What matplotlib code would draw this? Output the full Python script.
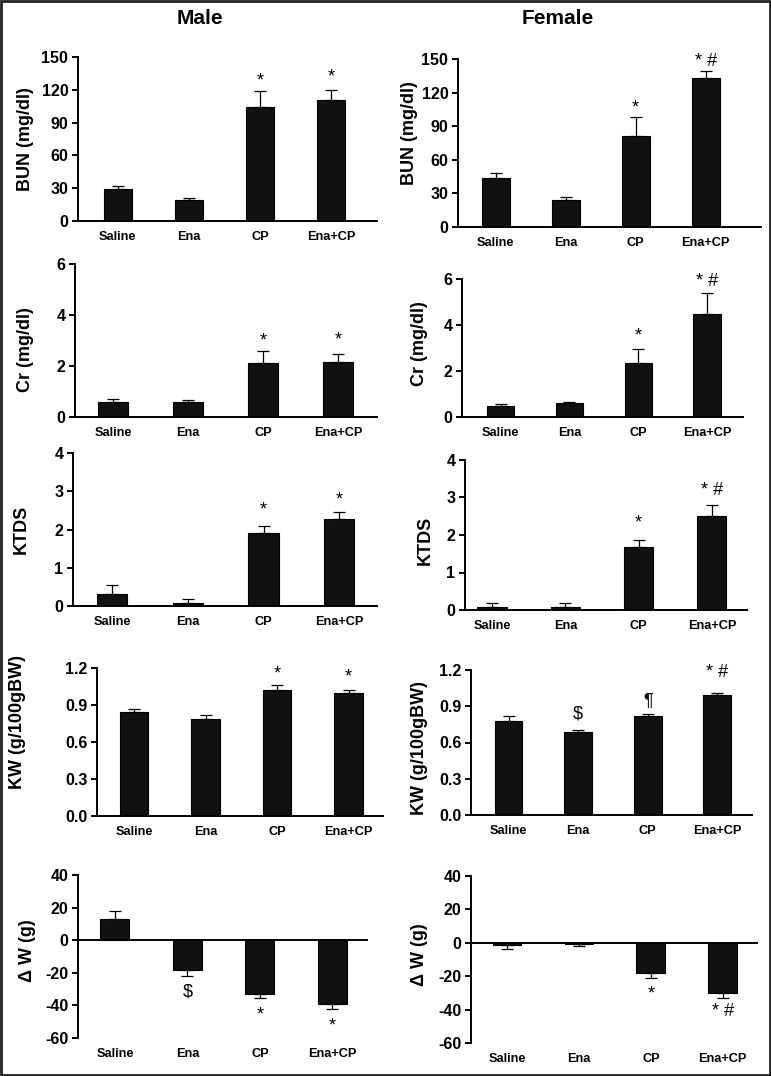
import matplotlib
matplotlib.use("Agg")
import matplotlib.pyplot as plt
from matplotlib.patches import Rectangle

plt.rcParams['font.family'] = ['Liberation Sans', 'DejaVu Sans']

# ------------------------------------------------------------------
# data
# ------------------------------------------------------------------
groups = ["Saline", "Ena", "CP", "Ena+CP"]

male_bun = [29, 19, 104, 111]
male_bun_err = [3, 2, 15, 9]
female_bun = [43.5, 24, 81, 133]
female_bun_err = [5, 2.5, 17, 6.5]

male_cr = [0.60, 0.60, 2.11, 2.17]
male_cr_err = [0.11, 0.07, 0.48, 0.32]
female_cr = [0.48, 0.62, 2.36, 4.49]
female_cr_err = [0.10, 0.05, 0.60, 0.89]

male_ktds = [0.31, 0.09, 1.90, 2.28]
male_ktds_err = [0.23, 0.10, 0.19, 0.18]
female_ktds = [0.09, 0.09, 1.67, 2.50]
female_ktds_err = [0.10, 0.10, 0.21, 0.30]

male_kw = [0.84, 0.79, 1.02, 0.995]
male_kw_err = [0.025, 0.03, 0.04, 0.025]
female_kw = [0.78, 0.686, 0.82, 0.99]
female_kw_err = [0.04, 0.02, 0.02, 0.02]

male_dw = [12.9, -18.4, -32.7, -39.0]
male_dw_err = [5.0, 3.4, 3.0, 3.2]
female_dw = [-1.4, -1.0, -18.0, -30.2]
female_dw_err = [2.4, 0.8, 3.0, 3.0]

# significance marks: (bar index, text, y value)
male_bun_sig = [(2, "*", 133), (3, "*", 137)]
female_bun_sig = [(2, "*", 111), (3, "* #", 148)]
male_cr_sig = [(2, "*", 3.18), (3, "*", 3.25)]
female_cr_sig = [(2, "*", 3.78), (3, "* #", 5.88)]
male_ktds_sig = [(2, "*", 2.66), (3, "*", 2.91)]
female_ktds_sig = [(2, "*", 2.48), (3, "* #", 3.18)]
male_kw_sig = [(2, "*", 1.20), (3, "*", 1.17)]
female_kw_sig = [(1, "$", 0.835), (2, "\u00b6", 0.94), (3, "* #", 1.18)]
male_dw_sig = [(1, "$", -31.6), (2, "*", -42.4), (3, "*", -49)]
female_dw_sig = [(2, "*", -27.2), (3, "* #", -41)]

# ------------------------------------------------------------------
# panel setup
# ------------------------------------------------------------------
W, H = 771, 1076
fig = plt.figure(figsize=(W / 100, H / 100), dpi=100)

# (values, errors, marks, ylabel, ylim, yticks, fmt,
#  box in px [left, top, right, bottom], xlim, label pos px)
panels = [
    (male_bun, male_bun_err, male_bun_sig, "BUN (mg/dl)", (0, 150), range(0, 151, 30), "%d",
     (78, 57, 377, 221), (-0.56, 3.65), (25, 139)),
    (female_bun, female_bun_err, female_bun_sig, "BUN (mg/dl)", (0, 150), range(0, 151, 30), "%d",
     (458, 59, 761, 227), (-0.54, 3.79), (410, 133)),
    (male_cr, male_cr_err, male_cr_sig, "Cr (mg/dl)", (0, 6), range(0, 7, 2), "%d",
     (75, 264, 377, 417), (-0.51, 3.52), (25, 350)),
    (female_cr, female_cr_err, female_cr_sig, "Cr (mg/dl)", (0, 6), range(0, 7, 2), "%d",
     (462, 279, 743, 417), (-0.56, 3.52), (420, 344)),
    (male_ktds, male_ktds_err, male_ktds_sig, "KTDS", (0, 4), range(0, 5), "%d",
     (73, 453, 377, 606), (-0.52, 3.50), (21, 529)),
    (female_ktds, female_ktds_err, female_ktds_sig, "KTDS", (0, 4), range(0, 5), "%d",
     (465, 460, 747, 610), (-0.37, 3.48), (425, 540)),
    (male_kw, male_kw_err, male_kw_sig, "KW (g/100gBW)", (0, 1.2), [0, 0.3, 0.6, 0.9, 1.2], "%.1f",
     (97, 668, 383, 816), (-0.52, 3.48), (18, 722)),
    (female_kw, female_kw_err, female_kw_sig, "KW (g/100gBW)", (0, 1.2), [0, 0.3, 0.6, 0.9, 1.2], "%.1f",
     (471, 670, 752, 815), (-0.54, 3.50), (420, 748)),
    (male_dw, male_dw_err, male_dw_sig, "\u0394 W (g)", (-60, 40), range(-60, 41, 20), "%d",
     (78, 875, 368, 1038), (-0.51, 3.49), (27, 951)),
    (female_dw, female_dw_err, female_dw_sig, "\u0394 W (g)", (-60, 40), range(-60, 41, 20), "%d",
     (471, 876, 758, 1043), (-0.50, 3.49), (420, 955)),
]

bar_color = "#111111"
x = list(range(len(groups)))

for vals, errs, sig, ylab, ylim, yticks, fmt, box, xlim, labpos in panels:
    l, t, r, b = box
    ax = fig.add_axes([l / W, 1 - b / H, (r - l) / W, (b - t) / H])

    # one-sided error bars: up for positive bars, down for negative ones
    up = [e if v >= 0 else 0 for v, e in zip(vals, errs)]
    dn = [e if v < 0 else 0 for v, e in zip(vals, errs)]
    ax.bar(x, vals, width=0.4, color=bar_color, edgecolor="black", linewidth=0.8, zorder=2)
    ax.errorbar(x, vals, yerr=[dn, up], fmt="none", ecolor="black", elinewidth=0.9,
                capsize=4, capthick=0.9, zorder=3)

    ax.set_xlim(*xlim)
    ax.set_ylim(*ylim)
    ax.set_yticks(list(yticks))
    ax.set_yticklabels([fmt % v for v in yticks], fontsize=11.5, fontweight="bold")
    ax.set_xticks(x)
    ax.set_xticklabels(groups, fontsize=9.2, fontweight="bold")
    ax.tick_params(axis="x", length=0, pad=7)
    ax.tick_params(axis="y", length=4, width=1.4, pad=3)

    for s in ("top", "right"):
        ax.spines[s].set_visible(False)
    ax.spines["left"].set_linewidth(1.4)
    if ylim[0] < 0:
        ax.spines["bottom"].set_visible(False)
        ax.axhline(0, color="black", linewidth=1.4, zorder=4)
    else:
        ax.spines["bottom"].set_linewidth(1.4)

    for i, txt, yv in sig:
        dy = -4 if txt == "*" else 0
        ax.annotate(txt, (i, yv), xytext=(0, dy), textcoords="offset points",
                    ha="center", va="center", fontsize=13, annotation_clip=False)

    fig.text(labpos[0] / W, 1 - labpos[1] / H, ylab, rotation=90, ha="center", va="center",
             fontsize=13, fontweight="bold")

fig.text(200 / W, 1 - 18 / H, "Male", ha="center", va="center", fontsize=15, fontweight="bold")
fig.text(558 / W, 1 - 18 / H, "Female", ha="center", va="center", fontsize=15, fontweight="bold")

# frame around the whole figure
fig.patches.append(Rectangle((0.001, 0.001), 0.998, 0.998, transform=fig.transFigure,
                             fill=False, edgecolor="#222222", linewidth=2))

fig.savefig("out.png", dpi=100)
